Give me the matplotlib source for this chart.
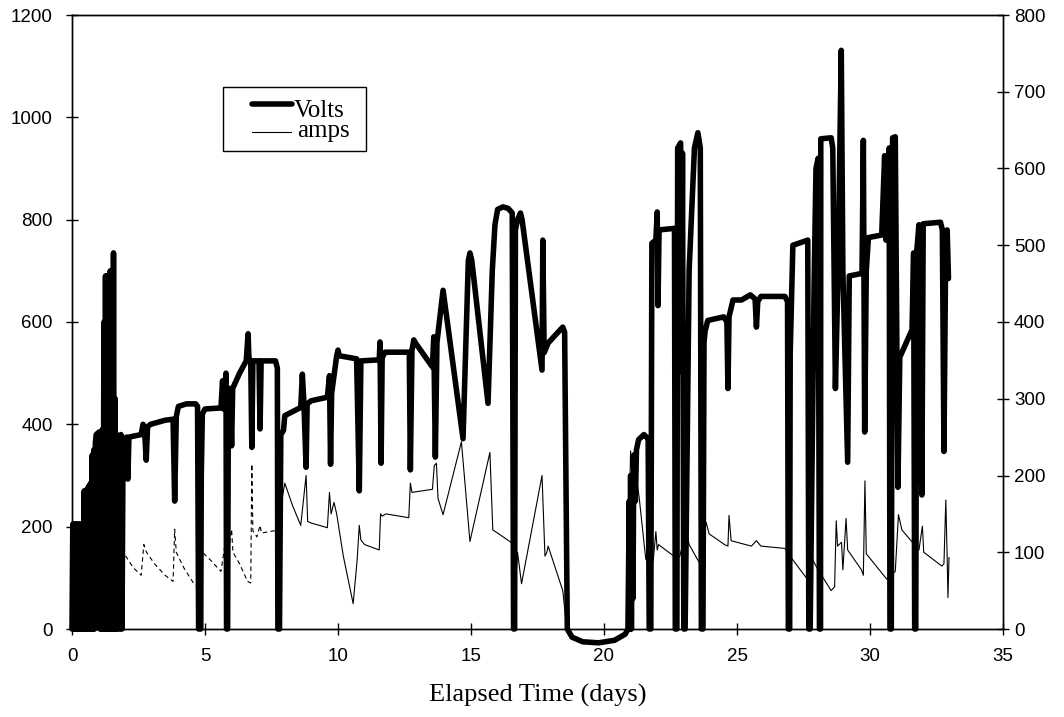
import matplotlib
matplotlib.use("Agg")
import matplotlib.pyplot as plt
from matplotlib.lines import Line2D
from matplotlib.patches import Rectangle
import numpy as np

# ---- data ----
volts_t = [0.00, 0.03, 0.06, 0.09, 0.12, 0.15, 0.18, 0.21, 0.24, 0.27, 0.30, 0.33, 0.36, 0.40, 0.43,
           0.46, 0.49, 0.52, 0.55, 0.58, 0.61, 0.64, 0.67, 0.70, 0.73, 0.76, 0.79, 0.82, 0.85, 0.88,
           0.91, 1.02, 1.05, 1.08, 1.11, 1.14, 1.17, 1.20, 1.23, 1.26, 1.29, 1.32, 1.35, 1.38, 1.41,
           1.44, 1.47, 1.50, 1.53, 1.56, 1.59, 1.62, 1.65, 1.68, 1.72, 1.76, 1.80, 1.84, 1.88, 1.92,
           2.05, 2.10, 2.14, 2.60, 2.67, 2.72, 2.79, 2.84, 2.95, 3.50, 3.80, 3.86, 3.92, 4.00, 4.30,
           4.65, 4.72, 4.76, 4.84, 4.86, 4.90, 5.00, 5.60, 5.66, 5.70, 5.79, 5.81, 5.85, 5.88, 5.95,
           6.00, 6.04, 6.30, 6.55, 6.62, 6.65, 6.72, 6.76, 6.80, 7.03, 7.07, 7.11, 7.65, 7.72, 7.74,
           7.80, 7.85, 7.95, 8.00, 8.60, 8.66, 8.72, 8.80, 8.84, 8.99, 9.60, 9.68, 9.72, 9.76, 9.95,
           10.00, 10.05, 10.70, 10.80, 10.86, 11.55, 11.58, 11.62, 11.66, 11.77, 12.68, 12.72, 12.78, 12.85, 12.90,
           13.55, 13.60, 13.66, 13.72, 13.95, 14.70, 14.90, 14.96, 15.03, 15.64, 15.80, 15.90, 16.00, 16.20, 16.40,
           16.55, 16.60, 16.64, 16.67, 16.75, 16.86, 16.92, 17.67, 17.70, 17.75, 17.90, 18.45, 18.52, 18.62, 18.80,
           19.20, 19.80, 20.40, 20.80, 20.90, 20.95, 20.98, 21.00, 21.03, 21.06, 21.09, 21.12, 21.18, 21.22, 21.30,
           21.50, 21.60, 21.66, 21.70, 21.76, 21.80, 21.95, 22.00, 22.03, 22.07, 22.65, 22.68, 22.74, 22.77, 22.88,
           22.92, 22.95, 23.00, 23.05, 23.20, 23.40, 23.53, 23.62, 23.66, 23.72, 23.76, 23.80, 23.90, 24.50, 24.62,
           24.66, 24.70, 24.85, 25.17, 25.50, 25.68, 25.73, 25.78, 25.90, 26.80, 26.90, 26.93, 26.98, 27.00, 27.10,
           27.66, 27.70, 27.75, 27.90, 27.97, 28.05, 28.10, 28.14, 28.15, 28.54, 28.60, 28.70, 28.80, 28.92, 28.98,
           29.16, 29.22, 29.70, 29.75, 29.80, 29.86, 29.94, 30.44, 30.55, 30.60, 30.72, 30.75, 30.80, 30.85, 30.95,
           31.05, 31.12, 31.58, 31.64, 31.68, 31.72, 31.76, 31.84, 31.95, 32.00, 32.65, 32.72, 32.78, 32.85, 32.90,
           32.95]
volts_v = [0, 205, 0, 205, 0, 205, 0, 205, 0, 205, 0, 205, 0, 205, 0,
           270, 0, 270, 0, 275, 0, 280, 0, 285, 0, 340, 0, 350, 0, 365,
           380, 385, 0, 385, 0, 390, 0, 600, 0, 690, 0, 690, 0, 690, 0,
           700, 0, 700, 0, 735, 0, 450, 0, 380, 0, 375, 0, 380, 0, 370,
           375, 293, 375, 380, 400, 395, 330, 395, 400, 408, 410, 250, 415, 435, 440,
           440, 435, 0, 0, 300, 420, 430, 432, 485, 430, 500, 0, 0, 470, 470,
           358, 470, 500, 524, 577, 530, 524, 355, 524, 524, 391, 524, 524, 510, 0,
           0, 380, 388, 417, 433, 498, 440, 316, 440, 446, 453, 495, 322, 460, 534,
           545, 534, 528, 270, 524, 526, 561, 324, 530, 541, 541, 311, 545, 565, 560,
           512, 571, 336, 560, 662, 372, 720, 735, 720, 441, 700, 790, 820, 825, 822,
           813, 0, 0, 780, 800, 813, 800, 506, 760, 540, 559, 590, 580, 0, -16,
           -25, -27, -22, -10, 0, 250, 0, 300, 0, 280, 60, 340, 250, 350, 370,
           380, 375, 370, 0, 0, 754, 760, 815, 632, 780, 783, 0, 0, 940, 950,
           503, 930, 0, 0, 700, 940, 970, 940, 0, 0, 560, 582, 603, 610, 600,
           470, 610, 643, 643, 653, 645, 590, 640, 650, 650, 640, 0, 0, 539, 750,
           760, 0, 0, 677, 900, 920, 0, 0, 958, 960, 940, 470, 700, 1131, 700,
           326, 690, 695, 955, 385, 700, 765, 770, 925, 760, 940, 0, 0, 960, 962,
           277, 531, 585, 735, 0, 0, 740, 790, 262, 792, 795, 780, 347, 770, 780,
           685]

amps_t = [1.75, 2.00, 2.30, 2.60, 2.70, 2.80, 3.10, 3.50, 3.80, 3.86, 3.92, 4.20, 4.60, 4.74,
          4.90, 5.20, 5.60, 5.75, 5.85, 5.90, 6.00, 6.05, 6.30, 6.60, 6.72, 6.76, 6.80, 6.95, 7.07,
          7.12, 7.60, 7.72, 7.85, 8.00, 8.30, 8.60, 8.80, 8.86, 9.00, 9.60, 9.68, 9.74, 9.85, 9.95,
          10.20, 10.57, 10.72, 10.80, 10.86, 11.00, 11.55, 11.60, 11.66, 11.80, 12.66, 12.72, 12.78, 13.55, 13.62,
          13.70, 13.76, 13.95, 14.64, 14.96, 15.71, 15.82, 16.00, 16.50, 16.60, 16.70, 16.75, 16.90, 17.67, 17.78,
          17.85, 17.90, 18.45, 18.60, 18.80, 19.50, 20.50, 20.90, 20.95, 21.00, 21.05, 21.10, 21.32, 21.57, 21.70,
          21.85, 21.95, 22.00, 22.05, 22.70, 22.85, 23.09, 23.20, 23.59, 23.84, 23.95, 24.53, 24.66, 24.70, 24.78,
          25.54, 25.73, 25.90, 26.80, 26.90, 27.10, 27.60, 27.85, 28.00, 28.54, 28.67, 28.73, 28.78, 28.93, 28.98,
          29.10, 29.16, 29.68, 29.75, 29.81, 29.86, 30.63, 30.70, 30.95, 31.07, 31.20, 31.84, 31.97, 32.02, 32.70,
          32.78, 32.85, 32.90, 32.93, 32.97]
amps_a = [100, 96, 80, 70, 110, 100, 85, 70, 62, 130, 100, 80, 58, 55,
          100, 90, 75, 110, 100, 105, 130, 100, 85, 62, 60, 215, 128, 120, 135,
          125, 128, 125, 160, 190, 160, 135, 200, 140, 138, 132, 178, 150, 165, 150,
          95, 33, 90, 135, 116, 110, 103, 150, 147, 150, 145, 190, 178, 182, 213,
          216, 170, 149, 244, 114, 230, 129, 125, 113, 110, 74, 100, 59, 200, 95,
          100, 108, 50, 0, -5, -8, -12, -5, 150, 232, 200, 225, 172, 91, 86,
          89, 127, 103, 110, 93, 95, 129, 110, 86, 139, 124, 110, 108, 148, 115,
          108, 115, 108, 105, 100, 90, 67, 90, 80, 50, 55, 141, 108, 113, 77,
          144, 103, 77, 70, 193, 98, 65, 68, 75, 149, 129, 103, 134, 100, 82,
          85, 168, 95, 41, 93]

x_ticks = [0, 5, 10, 15, 20, 25, 30, 35]
left_ticks = [0, 200, 400, 600, 800, 1000, 1200]
right_ticks = [0, 100, 200, 300, 400, 500, 600, 700, 800]
series_names = ["Volts", "amps"]

sans = "Liberation Sans"
serif = "Liberation Serif"
W, H = 1064, 717
VOLT_LW = 4.0
AMP_LW = 0.8

fig = plt.figure(figsize=(W / 100, H / 100), dpi=100)
ax = fig.add_axes([72 / W, 1 - 629 / H, (1003 - 72) / W, (629 - 15) / H])
ax2 = ax.twinx()

# amps: the early part of the trace is broken up in the scan -> dashed there
at = np.array(amps_t)
aa = np.array(amps_a)
early = at <= 7.75
ax2.plot(at[early], aa[early], color="black", lw=AMP_LW, ls=(0, (4, 3)), zorder=2)
ax2.plot(at[~early], aa[~early], color="black", lw=AMP_LW, zorder=2)
ax.plot(volts_t, volts_v, color="black", lw=VOLT_LW, clip_on=False,
        solid_joinstyle="round", solid_capstyle="round", zorder=3)
ax.set_zorder(ax2.get_zorder() + 1)
ax.patch.set_visible(False)

ax.set_xlim(0, 35)
ax.set_ylim(0, 1200)
ax2.set_ylim(0, 800)
ax.set_xticks(x_ticks)
ax.set_yticks(left_ticks)
ax2.set_yticks(right_ticks)

for a in (ax, ax2):
    a.tick_params(direction="inout", length=8, width=1, labelsize=13.5, colors="black")
    for s in a.spines.values():
        s.set_linewidth(1.0)
ax.tick_params(axis="x", pad=10)
ax.tick_params(axis="y", pad=10)
ax2.tick_params(axis="y", pad=4)
for lab in ax.get_xticklabels() + ax.get_yticklabels() + ax2.get_yticklabels():
    lab.set_fontfamily(sans)

ax.set_xlabel("Elapsed Time (days)", fontfamily=serif, fontsize=19, labelpad=13)

# legend box drawn in figure pixel positions (Excel-style square legend)
def fx(px):
    return px / W

def fy(py):
    return 1 - py / H

fig.patches.append(Rectangle((fx(223), fy(151)), fx(366) - fx(223), fy(87) - fy(151),
                             transform=fig.transFigure, facecolor="white",
                             edgecolor="black", lw=1.0, zorder=10))
fig.lines.append(Line2D([fx(252), fx(292)], [fy(104), fy(104)], transform=fig.transFigure,
                        color="black", lw=VOLT_LW, solid_capstyle="round", zorder=11))
fig.lines.append(Line2D([fx(252), fx(291)], [fy(132), fy(132)], transform=fig.transFigure,
                        color="black", lw=AMP_LW, zorder=11))
fig.text(fx(294), fy(117), series_names[0], family=serif, fontsize=18, va="baseline",
         ha="left", zorder=12)
fig.text(fx(297), fy(137), series_names[1], family=serif, fontsize=18, va="baseline",
         ha="left", zorder=12)

fig.savefig("out.png", dpi=100)
